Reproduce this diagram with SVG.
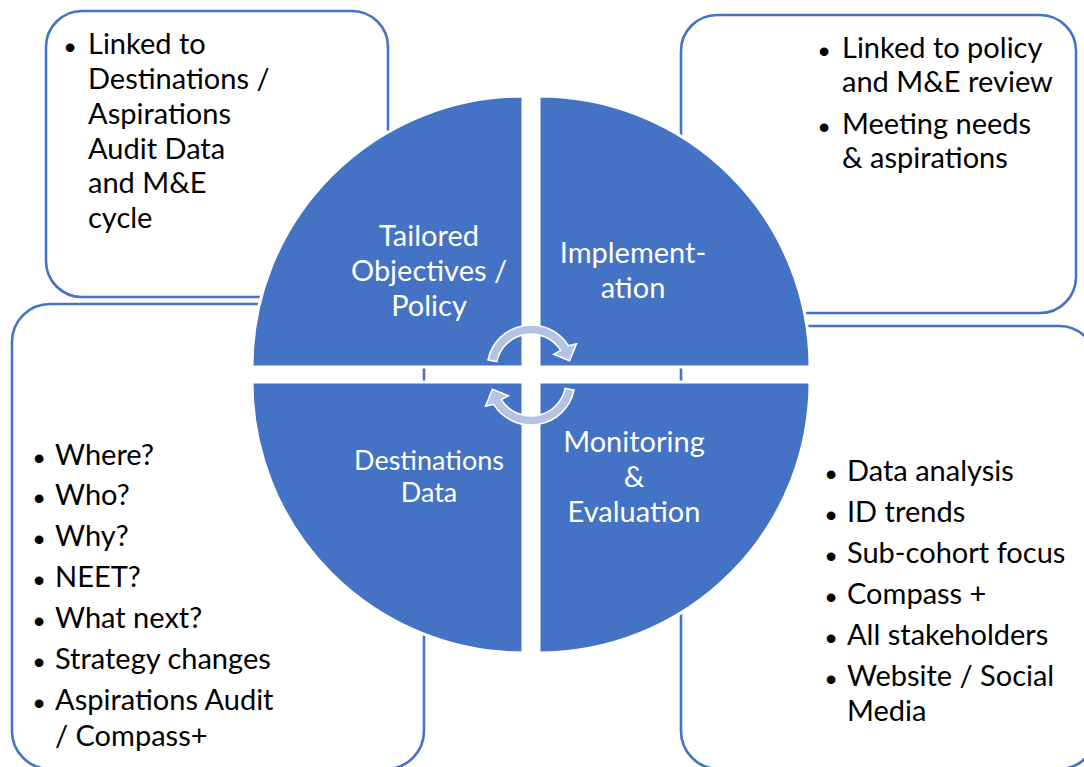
<svg xmlns="http://www.w3.org/2000/svg" width="1084" height="767" viewBox="0 0 1084 767">
<style>
.box{fill:#fff;stroke:#4472C4;stroke-width:2.6}
.q{fill:#4472C4;stroke:#fff;stroke-width:3}
.arr{fill:#B4C3E4;stroke:#fff;stroke-width:1.5;stroke-linejoin:miter}
.t{font-family:Lato,"Liberation Sans",sans-serif;font-size:29px;fill:#000}
.w{font-family:Lato,"Liberation Sans",sans-serif;font-size:29px;fill:#fff;text-anchor:middle}
.b{font-family:"Liberation Sans",sans-serif;font-size:32px;fill:#000}
</style>
<rect width="1084" height="767" fill="#fff"/>
<g id="box-top-left">
<rect class="box" x="46" y="11" width="342" height="286" rx="36"/>
<text class="b" x="64.5" y="58">•</text>
<text class="t" x="88" y="54">Linked to</text>
<text class="t" x="88" y="89">Destinations /</text>
<text class="t" x="88" y="124">Aspirations</text>
<text class="t" x="88" y="159">Audit Data</text>
<text class="t" x="88" y="193">and M&amp;E</text>
<text class="t" x="88" y="228">cycle</text>
</g>
<g id="box-top-right">
<rect class="box" x="681" y="15" width="395" height="298" rx="36"/>
<text class="b" x="818.5" y="62">•</text>
<text class="t" x="842" y="58">Linked to policy</text>
<text class="t" x="842" y="92">and M&amp;E review</text>
<text class="b" x="818.5" y="138">•</text>
<text class="t" x="842" y="134">Meeting needs</text>
<text class="t" x="842" y="168">&amp; aspirations</text>
</g>
<g id="box-bottom-left">
<rect class="box" x="12" y="304" width="412" height="465" rx="38"/>
<text class="b" x="33.5" y="469">•</text><text class="t" x="55" y="465">Where?</text>
<text class="b" x="33.5" y="509">•</text><text class="t" x="55" y="505">Who?</text>
<text class="b" x="33.5" y="550">•</text><text class="t" x="55" y="546">Why?</text>
<text class="b" x="33.5" y="591">•</text><text class="t" x="55" y="587">NEET?</text>
<text class="b" x="33.5" y="632">•</text><text class="t" x="55" y="628">What next?</text>
<text class="b" x="33.5" y="673">•</text><text class="t" x="55" y="669">Strategy changes</text>
<text class="b" x="33.5" y="714">•</text><text class="t" x="55" y="710">Aspirations Audit</text>
<text class="t" x="55" y="746">/ Compass+</text>
</g>
<g id="box-bottom-right">
<rect class="box" x="681" y="326" width="416" height="443" rx="38"/>
<text class="b" x="825.5" y="485">•</text><text class="t" x="847" y="481">Data analysis</text>
<text class="b" x="825.5" y="526">•</text><text class="t" x="847" y="522">ID trends</text>
<text class="b" x="825.5" y="567">•</text><text class="t" x="847" y="563">Sub-cohort focus</text>
<text class="b" x="825.5" y="608">•</text><text class="t" x="847" y="604">Compass +</text>
<text class="b" x="825.5" y="649">•</text><text class="t" x="847" y="645">All stakeholders</text>
<text class="b" x="825.5" y="690">•</text><text class="t" x="847" y="686">Website / Social</text>
<text class="t" x="847" y="721">Media</text>
</g>
<g id="quadrant-tailored">
<path class="q" d="M523,367 L252,367 A271,271 0 0 1 523,96 Z"/>
<text class="w" x="429" y="246">Tailored</text>
<text class="w" x="429" y="281">Objectives /</text>
<text class="w" x="429" y="316">Policy</text>
</g>
<g id="quadrant-implementation">
<path class="q" d="M539,367 L539,96 A271,271 0 0 1 810,367 Z"/>
<text class="w" x="633" y="263">Implement-</text>
<text class="w" x="633" y="298">ation</text>
</g>
<g id="quadrant-destinations">
<path class="q" d="M523,382 L523,653 A271,271 0 0 1 252,382 Z"/>
<text class="w" x="429" y="470" style="font-size:27px">Destinations</text>
<text class="w" x="429" y="502" style="font-size:27px">Data</text>
</g>
<g id="quadrant-monitoring">
<path class="q" d="M539,382 L810,382 A271,271 0 0 1 539,653 Z"/>
<text class="w" x="634" y="452">Monitoring</text>
<text class="w" x="634" y="487">&amp;</text>
<text class="w" x="634" y="522">Evaluation</text>
</g>
<g id="connectors">
<path id="arrow-top" class="arr" d="M487.96,359.85 A44,44 0 0 1 568.31,345.68 L576.48,343.79 L569.64,360.79 L553.64,354.30 L560.68,350.45 A35,35 0 0 0 496.77,361.72 Z"/>
<path id="arrow-bottom" class="arr" transform="rotate(180 531 375)" d="M487.96,359.85 A44,44 0 0 1 568.31,345.68 L576.48,343.79 L569.64,360.79 L553.64,354.30 L560.68,350.45 A35,35 0 0 0 496.77,361.72 Z"/>
</g>
</svg>
